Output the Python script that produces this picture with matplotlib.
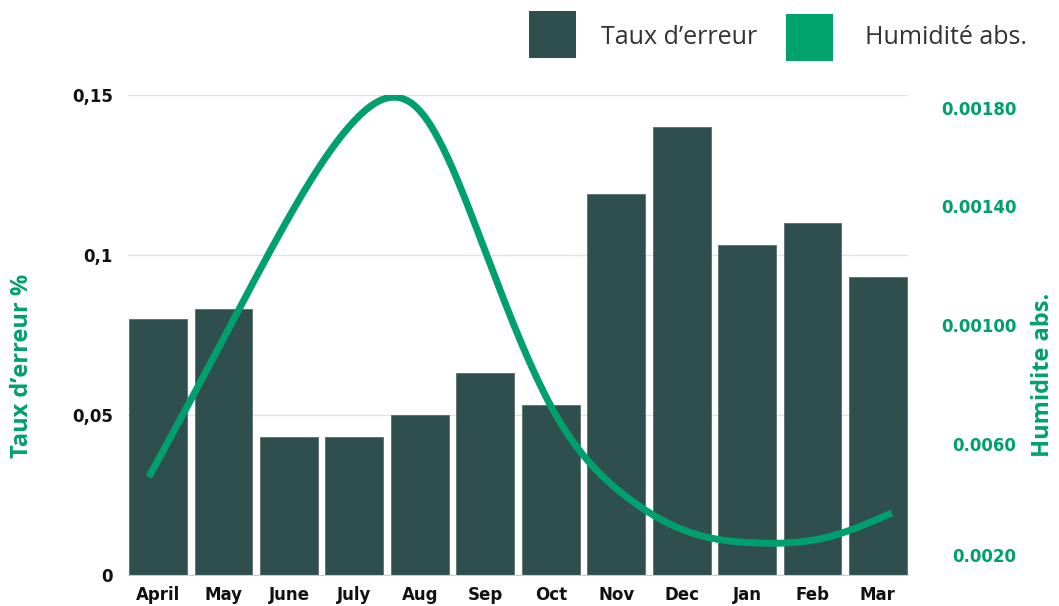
import numpy as np
import matplotlib
matplotlib.use("Agg")
import matplotlib.pyplot as plt
from matplotlib.patches import Rectangle

# ---- data ----
months = ["April", "May", "June", "July", "Aug", "Sep", "Oct", "Nov", "Dec", "Jan", "Feb", "Mar"]
error_rate = [0.080, 0.083, 0.043, 0.043, 0.050, 0.063, 0.053, 0.119, 0.140, 0.103, 0.110, 0.093]
humidity = [0.00479, 0.00927, 0.01378, 0.01743, 0.01793, 0.01274, 0.00712, 0.00422,
            0.00282, 0.00243, 0.00261, 0.00350]
left_ticks = [0, 0.05, 0.1, 0.15]
left_tick_labels = ["0", "0,05", "0,1", "0,15"]
right_ticks = [0.0020, 0.00597, 0.01023, 0.01449, 0.0180]
right_tick_labels = ["0.0020", "0.0060", "0.00100", "0.00140", "0.00180"]

BAR = "#2f4f4e"
GREEN = "#00a06e"
FONT = "Open Sans"
TICKFONT = "DejaVu Sans"


def natural_spline(x, y, xs):
    x = np.asarray(x, float); y = np.asarray(y, float)
    n = len(x); h = np.diff(x)
    A = np.zeros((n, n)); b = np.zeros(n)
    A[0, 0] = 1; A[-1, -1] = 1
    for i in range(1, n - 1):
        A[i, i - 1] = h[i - 1]; A[i, i] = 2 * (h[i - 1] + h[i]); A[i, i + 1] = h[i]
        b[i] = 3 * ((y[i + 1] - y[i]) / h[i] - (y[i] - y[i - 1]) / h[i - 1])
    c = np.linalg.solve(A, b)
    out = np.empty_like(xs)
    for k, xv in enumerate(xs):
        i = min(max(np.searchsorted(x, xv) - 1, 0), n - 2)
        bi = (y[i + 1] - y[i]) / h[i] - h[i] * (2 * c[i] + c[i + 1]) / 3
        di = (c[i + 1] - c[i]) / (3 * h[i])
        t = xv - x[i]
        out[k] = y[i] + bi * t + c[i] * t ** 2 + di * t ** 3
    return out


fig = plt.figure(figsize=(10.59, 6.06), dpi=100)
ax = fig.add_axes([128 / 1059, 31 / 606, 780 / 1059, 480 / 606])

x = np.arange(len(months))
ax.bar(x, error_rate, width=0.885, color=BAR, edgecolor="#5a6e6c", linewidth=0.6, zorder=2)
ax.set_xlim(-0.46, 11.46)
ax.set_ylim(0, 0.15)
ax.set_yticks(left_ticks)
ax.set_yticklabels(left_tick_labels, fontfamily=TICKFONT, fontweight="bold", fontsize=12, color="#111111")
ax.set_xticks(x)
ax.set_xticklabels(months, fontfamily=TICKFONT, fontweight="bold", fontsize=12, color="#111111")
ax.tick_params(axis="both", length=0)
ax.tick_params(axis="y", pad=11)
ax.tick_params(axis="x", pad=8)
ax.grid(axis="y", color="#e2e2e2", linewidth=1, zorder=0)
ax.set_axisbelow(True)
for s in ["top", "right", "left"]:
    ax.spines[s].set_visible(False)
ax.spines["bottom"].set_color("#cccccc")

# right axis
ax2 = ax.twinx()
ylim_lo = 0.002 - 20 * 0.016 / 447
ylim_hi = 0.002 + 460 * 0.016 / 447
ax2.set_ylim(ylim_lo, ylim_hi)
ax2.set_yticks(right_ticks)
ax2.set_yticklabels(right_tick_labels, fontfamily=TICKFONT, fontweight="bold", fontsize=12, color=GREEN,
                    ha="right")
ax2.tick_params(axis="y", length=0, pad=78)
for s in ax2.spines.values():
    s.set_visible(False)

# smooth line, slightly offset horizontal positions
lx = -0.14 + x * 1.032
xs = np.linspace(lx[0], lx[-1], 500)
ys = natural_spline(lx, humidity, xs)
ax2.plot(xs, ys, color=GREEN, linewidth=5, solid_capstyle="butt", zorder=3)

# axis titles
fig.text(22 / 1059, 1 - 366 / 606, "Taux d\u2019erreur %", rotation=90, ha="center", va="center",
         fontfamily=FONT, fontweight="bold", fontsize=17, color=GREEN)
fig.text(1043 / 1059, 1 - 375 / 606, "Humidite abs.", rotation=90, ha="center", va="center",
         fontfamily=FONT, fontweight="bold", fontsize=17, color=GREEN)

# legend
W, H = 1059, 606
fig.add_artist(Rectangle((529 / W, 1 - 58 / H), 47 / W, 47 / H, transform=fig.transFigure,
                         facecolor=BAR, edgecolor="none"))
fig.text(601 / W, 1 - 37 / H, "Taux d\u2019erreur", ha="left", va="center",
         fontfamily=FONT, fontsize=18, color="#333333")
fig.add_artist(Rectangle((786 / W, 1 - 61 / H), 47 / W, 47 / H, transform=fig.transFigure,
                         facecolor="#00a36c", edgecolor="none"))
fig.text(865 / W, 1 - 38 / H, "Humidité abs.", ha="left", va="center",
         fontfamily=FONT, fontsize=18, color="#333333")

fig.savefig("out.png", dpi=100)
